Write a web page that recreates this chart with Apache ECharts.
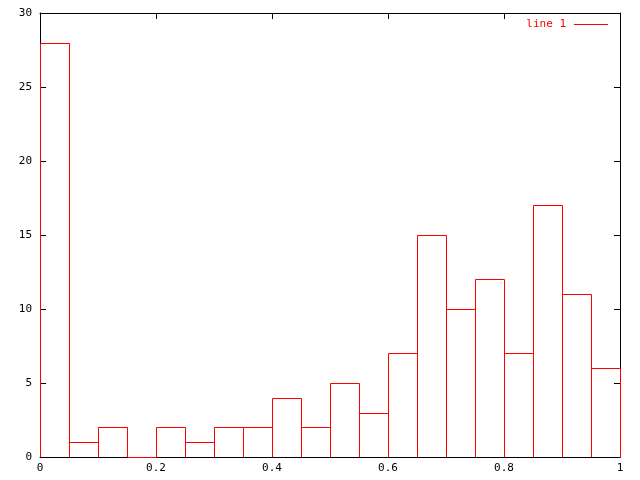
<!DOCTYPE html>
<html><head><meta charset="utf-8">
<script src="https://cdn.jsdelivr.net/npm/echarts@6/dist/echarts.min.js"></script>
<style>html,body{margin:0;padding:0;background:#fff}#c{width:640px;height:480px}</style>
</head><body><div id="c"></div>
<script>
var binLeft = [0, 0.05, 0.1, 0.15, 0.2, 0.25, 0.3, 0.35, 0.4, 0.45, 0.5, 0.55, 0.6, 0.65, 0.7, 0.75, 0.8, 0.85, 0.9, 0.95];
var binWidth = 0.05;
var counts = [28, 1, 2, 0, 2, 1, 2, 2, 4, 2, 5, 3, 7, 15, 10, 12, 7, 17, 11, 6];
var seriesName = 'line 1';

var data = binLeft.map(function (x, i) { return [x, counts[i]]; });
var font = 'DejaVu Sans Mono';
function px(v) { return Math.round(v) + 0.5; }

var chart = echarts.init(document.getElementById('c'));
var axisCommon = {
  axisLine: { show: true, onZero: false, lineStyle: { color: '#000', width: 1 } },
  axisTick: { show: true, inside: true, length: 6, lineStyle: { color: '#000' } },
  splitLine: { show: false }
};
chart.setOption({
  animation: false,
  backgroundColor: '#fff',
  grid: { left: 40, right: 20, top: 13, bottom: 23, containLabel: false },
  legend: {
    right: 27, top: 14,
    data: [{ name: seriesName, icon: 'rect', itemStyle: { color: '#ff0000' } }],
    itemWidth: 34, itemHeight: 1, align: 'right',
    textStyle: { color: '#ff0000', fontFamily: font, fontSize: 11, padding: [0, 3, 0, 0] }
  },
  xAxis: [
    Object.assign({ type: 'value', position: 'bottom', min: 0, max: 1, interval: 0.2,
      axisLabel: { color: '#000', fontFamily: font, fontSize: 11, margin: 6 } }, axisCommon),
    Object.assign({ type: 'value', position: 'top', min: 0, max: 1, interval: 0.2,
      axisLabel: { show: false } }, axisCommon)
  ],
  yAxis: [
    Object.assign({ type: 'value', position: 'left', min: 0, max: 30, interval: 5,
      axisLabel: { color: '#000', fontFamily: font, fontSize: 11, margin: 8 } }, axisCommon),
    Object.assign({ type: 'value', position: 'right', min: 0, max: 30, interval: 5,
      axisLabel: { show: false } }, axisCommon)
  ],
  series: [{
    name: seriesName,
    type: 'custom',
    xAxisIndex: 0, yAxisIndex: 0,
    itemStyle: { color: '#ff0000' },
    z: 5,
    renderItem: function (params, api) {
      var x0 = api.value(0), v = api.value(1);
      var a = api.coord([x0, 0]), b = api.coord([x0, v]);
      var c = api.coord([x0 + binWidth, v]), d = api.coord([x0 + binWidth, 0]);
      var pts = [[px(a[0]), a[1]], [px(b[0]), px(b[1])], [px(c[0]), px(c[1])], [px(d[0]), d[1]]];
      if (v === 0) {
        pts = [[px(a[0]), px(a[1])], [px(d[0]), px(d[1])]];
      }
      return {
        type: 'polyline',
        shape: { points: pts },
        style: { stroke: '#ff0000', fill: null, lineWidth: 1 }
      };
    },
    encode: { x: 0, y: 1 },
    data: data
  }]
});
</script></body></html>
